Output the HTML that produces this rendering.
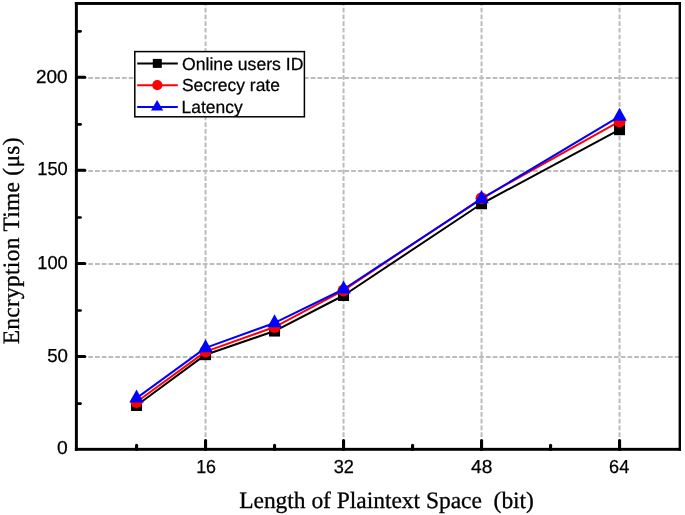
<!DOCTYPE html>
<html><head><meta charset="utf-8"><style>
html,body{margin:0;padding:0;background:#fff;}
svg{display:block;will-change:transform;}
text{text-rendering:geometricPrecision;}
.tl{font-family:"Liberation Sans",sans-serif;font-size:18.8px;fill:#000;stroke:#000;stroke-width:0.25px;}
.lg{font-family:"Liberation Sans",sans-serif;font-size:17.5px;fill:#000;stroke:#000;stroke-width:0.25px;}
.at{font-family:"Liberation Serif",serif;font-size:23.5px;fill:#000;stroke:#000;stroke-width:0.3px;}
</style></head><body>
<svg width="685" height="515" viewBox="0 0 685 515">
<rect width="685" height="515" fill="#fff"/>
<line x1="205.55" y1="450.5" x2="205.55" y2="3.5" stroke="#bcbcbc" stroke-width="2" stroke-dasharray="4.7 2.04"/>
<line x1="343.55" y1="450.5" x2="343.55" y2="3.5" stroke="#bcbcbc" stroke-width="2" stroke-dasharray="4.7 2.04"/>
<line x1="481.55" y1="450.5" x2="481.55" y2="3.5" stroke="#bcbcbc" stroke-width="2" stroke-dasharray="4.7 2.04"/>
<line x1="619.55" y1="450.5" x2="619.55" y2="3.5" stroke="#bcbcbc" stroke-width="2" stroke-dasharray="4.7 2.04"/>
<line x1="74.8" y1="357.05" x2="679.5" y2="357.05" stroke="#bcbcbc" stroke-width="2" stroke-dasharray="4.7 2.04"/>
<line x1="74.8" y1="264.00" x2="679.5" y2="264.00" stroke="#bcbcbc" stroke-width="2" stroke-dasharray="4.7 2.04"/>
<line x1="74.8" y1="170.95" x2="679.5" y2="170.95" stroke="#bcbcbc" stroke-width="2" stroke-dasharray="4.7 2.04"/>
<line x1="74.8" y1="77.90" x2="679.5" y2="77.90" stroke="#bcbcbc" stroke-width="2" stroke-dasharray="4.7 2.04"/>
<polyline points="136.55,405.49 205.55,354.68 274.55,331.05 343.55,295.50 481.55,203.75 619.55,129.69" fill="none" stroke="#000" stroke-width="2" stroke-linejoin="round"/>
<rect x="131.05" y="399.99" width="11" height="11" fill="#000"/>
<rect x="200.05" y="349.18" width="11" height="11" fill="#000"/>
<rect x="269.05" y="325.55" width="11" height="11" fill="#000"/>
<rect x="338.05" y="290.00" width="11" height="11" fill="#000"/>
<rect x="476.05" y="198.25" width="11" height="11" fill="#000"/>
<rect x="614.05" y="124.19" width="11" height="11" fill="#000"/>
<polyline points="136.55,402.04 205.55,351.61 274.55,327.05 343.55,290.38 481.55,198.27 619.55,121.41" fill="none" stroke="#f00" stroke-width="2" stroke-linejoin="round"/>
<circle cx="136.55" cy="402.04" r="6" fill="#f00"/>
<circle cx="205.55" cy="351.61" r="6" fill="#f00"/>
<circle cx="274.55" cy="327.05" r="6" fill="#f00"/>
<circle cx="343.55" cy="290.38" r="6" fill="#f00"/>
<circle cx="481.55" cy="198.27" r="6" fill="#f00"/>
<circle cx="619.55" cy="121.41" r="6" fill="#f00"/>
<polyline points="136.55,398.14 205.55,347.89 274.55,322.95 343.55,289.27 481.55,198.82 619.55,116.38" fill="none" stroke="#00f" stroke-width="2" stroke-linejoin="round"/>
<polygon points="136.55,389.47 129.35,402.47 143.75,402.47" fill="#00f"/>
<polygon points="205.55,339.22 198.35,352.22 212.75,352.22" fill="#00f"/>
<polygon points="274.55,314.29 267.35,327.29 281.75,327.29" fill="#00f"/>
<polygon points="343.55,280.60 336.35,293.60 350.75,293.60" fill="#00f"/>
<polygon points="481.55,190.16 474.35,203.16 488.75,203.16" fill="#00f"/>
<polygon points="619.55,107.71 612.35,120.71 626.75,120.71" fill="#00f"/>
<line x1="76.50" y1="356.45" x2="84.8" y2="356.45" stroke="#000" stroke-width="3" stroke-linecap="round"/>
<line x1="76.50" y1="263.40" x2="84.8" y2="263.40" stroke="#000" stroke-width="3" stroke-linecap="round"/>
<line x1="76.50" y1="170.35" x2="84.8" y2="170.35" stroke="#000" stroke-width="3" stroke-linecap="round"/>
<line x1="76.50" y1="77.30" x2="84.8" y2="77.30" stroke="#000" stroke-width="3" stroke-linecap="round"/>
<line x1="76.50" y1="403.58" x2="80.6" y2="403.58" stroke="#000" stroke-width="2.6" stroke-linecap="round"/>
<line x1="76.50" y1="310.53" x2="80.6" y2="310.53" stroke="#000" stroke-width="2.6" stroke-linecap="round"/>
<line x1="76.50" y1="217.47" x2="80.6" y2="217.47" stroke="#000" stroke-width="2.6" stroke-linecap="round"/>
<line x1="76.50" y1="124.42" x2="80.6" y2="124.42" stroke="#000" stroke-width="2.6" stroke-linecap="round"/>
<line x1="76.50" y1="31.37" x2="80.6" y2="31.37" stroke="#000" stroke-width="2.6" stroke-linecap="round"/>
<line x1="205.55" y1="449.50" x2="205.55" y2="440.5" stroke="#000" stroke-width="3.1" stroke-linecap="round"/>
<line x1="343.55" y1="449.50" x2="343.55" y2="440.5" stroke="#000" stroke-width="3.1" stroke-linecap="round"/>
<line x1="481.55" y1="449.50" x2="481.55" y2="440.5" stroke="#000" stroke-width="3.1" stroke-linecap="round"/>
<line x1="619.55" y1="449.50" x2="619.55" y2="440.5" stroke="#000" stroke-width="3.1" stroke-linecap="round"/>
<line x1="136.55" y1="449.50" x2="136.55" y2="445.3" stroke="#000" stroke-width="3.1" stroke-linecap="round"/>
<line x1="274.55" y1="449.50" x2="274.55" y2="445.3" stroke="#000" stroke-width="3.1" stroke-linecap="round"/>
<line x1="412.55" y1="449.50" x2="412.55" y2="445.3" stroke="#000" stroke-width="3.1" stroke-linecap="round"/>
<line x1="550.55" y1="449.50" x2="550.55" y2="445.3" stroke="#000" stroke-width="3.1" stroke-linecap="round"/>
<rect x="74.9" y="2.0" width="606.1" height="2.93" fill="#000"/>
<rect x="74.9" y="2.0" width="2.95" height="448.77" fill="#000"/>
<rect x="74.9" y="447.85" width="606.1" height="2.92" fill="#000"/>
<rect x="678.6" y="2.0" width="2.4" height="448.77" fill="#000"/>
<text id="y0" x="57.05" y="454.30" class="tl" textLength="10.73" lengthAdjust="spacingAndGlyphs">0</text>
<text id="y50" x="47.17" y="361.65" class="tl" textLength="20.75" lengthAdjust="spacingAndGlyphs">50</text>
<text id="y100" x="37.27" y="268.60" class="tl" textLength="30.50" lengthAdjust="spacingAndGlyphs">100</text>
<text id="y150" x="37.27" y="175.15" class="tl" textLength="30.50" lengthAdjust="spacingAndGlyphs">150</text>
<text id="y200" x="36.05" y="82.50" class="tl" textLength="31.61" lengthAdjust="spacingAndGlyphs">200</text>
<text id="x16" x="196.20" y="472.80" class="tl" textLength="19.87" lengthAdjust="spacingAndGlyphs">16</text>
<text id="x32" x="333.75" y="472.80" class="tl" textLength="20.24" lengthAdjust="spacingAndGlyphs">32</text>
<text id="x48" x="470.98" y="472.80" class="tl" textLength="21.32" lengthAdjust="spacingAndGlyphs">48</text>
<text id="x64" x="609.11" y="472.80" class="tl" textLength="20.13" lengthAdjust="spacingAndGlyphs">64</text>
<text id="xt" x="239.15" y="507.70" class="at" xml:space="preserve" textLength="294.80" lengthAdjust="spacing">Length of Plaintext Space  (bit)</text>
<text id="yt" transform="translate(19.40,344.32) rotate(-90)" x="0" y="0" class="at" textLength="206.83" lengthAdjust="spacing">Encryption Time (μs)</text>
<rect x="134.8" y="51.6" width="169.60" height="65.20" fill="#fff" stroke="#000" stroke-width="1.5"/>
<line x1="137.2" y1="63.4" x2="177.8" y2="63.4" stroke="#000" stroke-width="2"/>
<rect x="152.80" y="58.90" width="9" height="9" fill="#000"/>
<text id="lg1" x="182.03" y="69.60" class="lg" textLength="121.39" lengthAdjust="spacingAndGlyphs">Online users ID</text>
<line x1="137.2" y1="85.2" x2="177.8" y2="85.2" stroke="#f00" stroke-width="2"/>
<circle cx="157.30" cy="85.20" r="5.1" fill="#f00"/>
<text id="lg2" x="181.90" y="91.40" class="lg" textLength="98.05" lengthAdjust="spacingAndGlyphs">Secrecy rate</text>
<line x1="137.2" y1="107.0" x2="177.8" y2="107.0" stroke="#00f" stroke-width="2"/>
<polygon points="157.1,100.00 151,110.60 163.2,110.60" fill="#00f"/>
<text id="lg3" x="181.49" y="113.20" class="lg" textLength="61.12" lengthAdjust="spacingAndGlyphs">Latency</text>
</svg>
</body></html>
